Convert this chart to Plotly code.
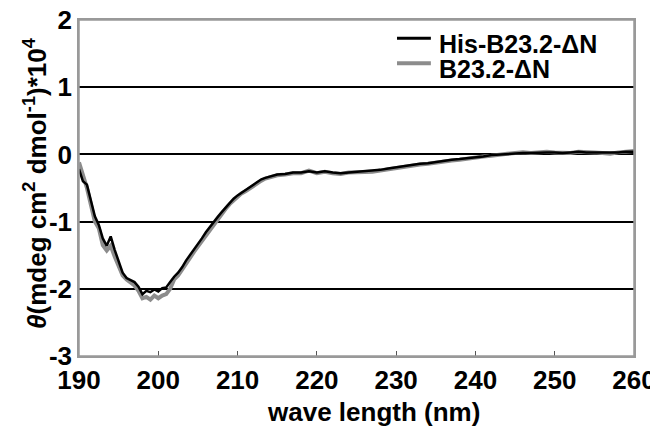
import numpy as np
import plotly.graph_objects as go

# wavelengths (nm): 0.5 nm steps to 215, then 1 nm steps
wl_fine = [190.0 + 0.5 * i for i in range(51)]
wl_coarse = [216 + i for i in range(45)]
wavelength = wl_fine + wl_coarse

his_fine = [-0.22, -0.40, -0.45, -0.70, -0.92, -1.05, -1.25, -1.36, -1.22, -1.42,
            -1.60, -1.76, -1.84, -1.87, -1.90, -1.97, -2.08, -2.03, -2.05, -2.01,
            -2.04, -1.99, -1.98, -1.90, -1.82, -1.76, -1.68, -1.58, -1.50, -1.41,
            -1.33, -1.25, -1.16, -1.08, -1.01, -0.93, -0.86, -0.79, -0.72, -0.66,
            -0.61, -0.57, -0.53, -0.49, -0.44, -0.41, -0.37, -0.35, -0.33, -0.32,
            -0.30]
his_coarse = [-0.29, -0.27, -0.27, -0.25, -0.27, -0.25, -0.27, -0.28, -0.27, -0.26,
              -0.25, -0.25, -0.23, -0.21, -0.19, -0.18, -0.16, -0.14, -0.13, -0.11,
              -0.09, -0.08, -0.07, -0.06, -0.04, -0.03, -0.01, 0.00, 0.01, 0.02,
              0.02, 0.02, 0.03, 0.03, 0.03, 0.02, 0.03, 0.04, 0.03, 0.03,
              0.02, 0.02, 0.03, 0.04, 0.04]
his_b23 = his_fine + his_coarse

b23_fine = [-0.12, -0.30, -0.50, -0.75, -1.00, -1.10, -1.35, -1.43, -1.36, -1.52,
            -1.65, -1.80, -1.86, -1.90, -1.95, -2.03, -2.14, -2.12, -2.16, -2.10,
            -2.14, -2.10, -2.08, -2.00, -1.86, -1.80, -1.72, -1.62, -1.54, -1.45,
            -1.37, -1.28, -1.20, -1.11, -1.03, -0.95, -0.88, -0.81, -0.74, -0.68,
            -0.63, -0.58, -0.55, -0.51, -0.46, -0.42, -0.39, -0.36, -0.34, -0.33,
            -0.31]
b23_coarse = [-0.30, -0.28, -0.28, -0.24, -0.28, -0.26, -0.28, -0.29, -0.27, -0.27,
              -0.26, -0.26, -0.24, -0.22, -0.20, -0.19, -0.17, -0.15, -0.14, -0.12,
              -0.10, -0.09, -0.08, -0.06, -0.05, -0.03, -0.02, 0.00, 0.01, 0.02,
              0.03, 0.02, 0.03, 0.04, 0.03, 0.03, 0.02, 0.04, 0.04, 0.03,
              0.02, 0.01, 0.03, 0.04, 0.05]
b23 = b23_fine + b23_coarse

x_ticks = [190, 200, 210, 220, 230, 240, 250, 260]
y_ticks = [2, 1, 0, -1, -2, -3]
y_ticktext = ["2", "1", "0", "-1", "-2", "-3"]
series_names = ["His-B23.2-\u0394N", "B23.2-\u0394N"]

BLACK = "#000000"
GRAY = "#8c8c8c"
FRAME = "#999999"
FONT = "Liberation Sans"

fig = go.Figure()
fig.add_trace(go.Scatter(x=wavelength, y=b23, mode="lines", name=series_names[1],
                         line=dict(color=GRAY, width=4), showlegend=False))
fig.add_trace(go.Scatter(x=wavelength, y=his_b23, mode="lines", name=series_names[0],
                         line=dict(color=BLACK, width=2.5), showlegend=False))

# page body has an 8px margin, so the figure is sized to end at the window edge
fig.update_layout(
    width=650, height=426,
    margin=dict(l=71, r=24, t=12, b=78),
    paper_bgcolor="white", plot_bgcolor="white",
    font=dict(family=FONT, color="black"),
)
fig.update_xaxes(
    range=[190, 260], tickvals=x_ticks, ticks="inside", ticklen=5, tickwidth=1,
    tickcolor="#555555", showline=True, linecolor=FRAME, linewidth=1.5,
    mirror=True, showgrid=False, zeroline=False, automargin=False,
    ticklabeloverflow="allow",
    tickfont=dict(family=FONT, size=26, weight="bold", color="black"),
)
fig.update_yaxes(
    range=[-3, 2], tickvals=y_ticks, ticktext=y_ticktext, ticks="",
    showline=True, linecolor=FRAME, linewidth=1.5, mirror=True,
    showgrid=True, gridcolor="black", gridwidth=1.5, zeroline=False, automargin=False,
    ticklabeloverflow="allow",
    tickfont=dict(family=FONT, size=26, weight="bold", color="black"),
)

# plot frame
fig.add_shape(type="rect", xref="paper", yref="paper", x0=0, x1=1, y0=0, y1=1,
              line=dict(color=FRAME, width=1.5), fillcolor="rgba(0,0,0,0)",
              layer="above")

# axis titles
fig.add_annotation(text="wave length (nm)", xref="paper", yref="paper",
                   x=0.53, y=-0.167, xanchor="center", yanchor="middle",
                   showarrow=False, font=dict(family=FONT, size=26, weight="bold"))
fig.add_annotation(text="<i>\u03b8</i>(mdeg cm<sup>2</sup> dmol<sup>-1</sup>)*10<sup>4</sup>",
                   xref="paper", yref="paper", x=-0.0775, y=0.515,
                   xanchor="center", yanchor="middle", textangle=-90,
                   showarrow=False, font=dict(family=FONT, size=26, weight="bold"))
# panel label (clipped at page edge)
fig.add_annotation(text="E", xref="paper", yref="paper", x=-0.1243, y=1.0357,
                   xanchor="right", yanchor="top", showarrow=False,
                   font=dict(family=FONT, size=24, weight="bold"))

# manual legend
legend_rows = [(0.9455, 0.9286, BLACK, 3, series_names[0]),
               (0.871, 0.855, GRAY, 4, series_names[1])]
for ly, ty, col, w, name in legend_rows:
    fig.add_shape(type="line", xref="paper", yref="paper", x0=0.573, x1=0.634,
                  y0=ly, y1=ly, line=dict(color=col, width=w))
    fig.add_annotation(text=name, xref="paper", yref="paper", x=0.645, y=ty,
                       xanchor="left", yanchor="middle", showarrow=False,
                       font=dict(family=FONT, size=25, weight="bold"))

fig.write_html("out.html")
